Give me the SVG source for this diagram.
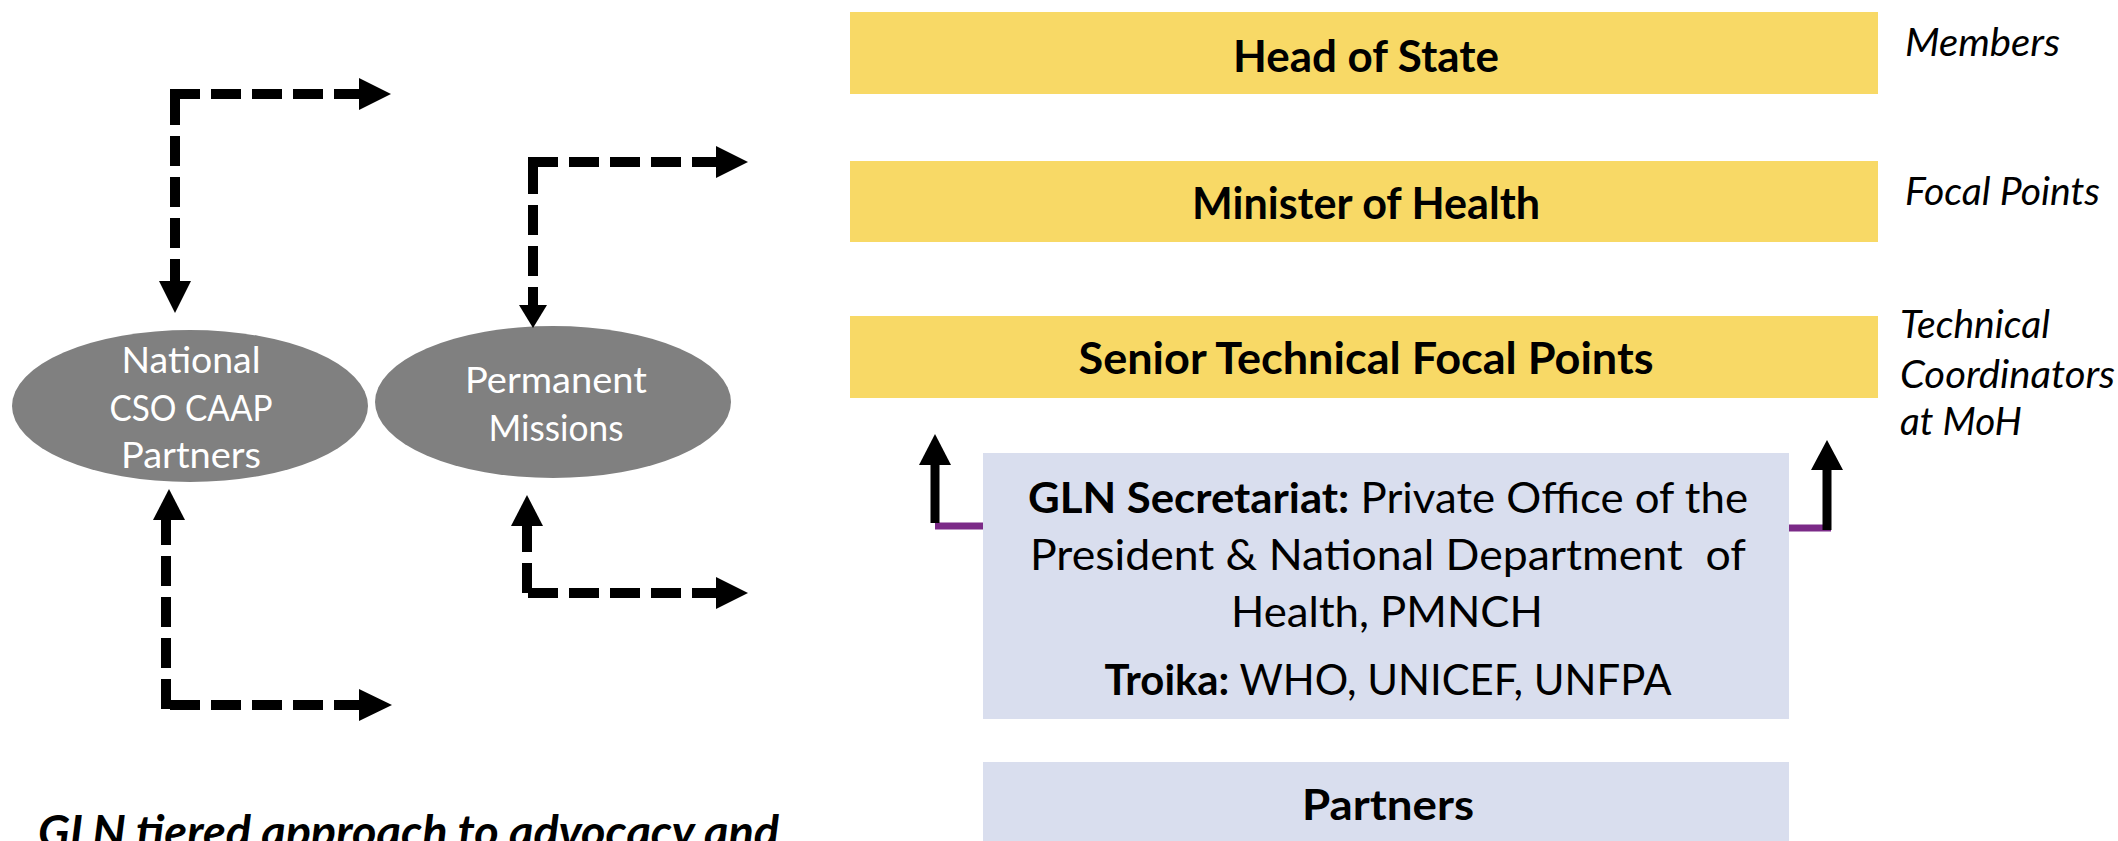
<svg xmlns="http://www.w3.org/2000/svg" width="2118" height="841" viewBox="0 0 2118 841">
  <style>
    .bg { fill: #ffffff; }
    .tier { fill: #F8D966; }
    .sec { fill: #D9DEEE; }
    .oval { fill: #808080; }
    .t { font-family: Lato, "Liberation Sans", sans-serif; fill: #000000; }
    .title { font-size: 43px; font-weight: bold; text-anchor: middle; }
    .body { font-size: 42px; text-anchor: middle; }
    .bold { font-weight: bold; }
    .side { font-size: 38px; font-style: italic; }
    .ovt { font-family: Lato, "Liberation Sans", sans-serif; font-size: 37px; fill: #ffffff; text-anchor: middle; }
    .cap { font-size: 45px; font-weight: bold; font-style: italic; }
    .dash { fill: none; stroke: #000000; stroke-width: 10; stroke-dasharray: 30 11; }
    .head { fill: #000000; }
    .solid { fill: none; stroke: #000000; stroke-width: 9; }
    .purple { fill: none; stroke: #7B2A87; stroke-width: 7; }
  </style>
  <rect class="bg" x="0" y="0" width="2118" height="841"/>

  <g id="node-head-of-state">
    <rect class="tier" x="850" y="12" width="1028" height="82"/>
    <text class="t title" x="1366" y="72" textLength="266" lengthAdjust="spacingAndGlyphs">Head of State</text>
  </g>
  <g id="node-minister-of-health">
    <rect class="tier" x="850" y="161" width="1028" height="81"/>
    <text class="t title" x="1366" y="219" textLength="348" lengthAdjust="spacingAndGlyphs">Minister of Health</text>
  </g>
  <g id="node-senior-technical">
    <rect class="tier" x="850" y="316" width="1028" height="82"/>
    <text class="t title" x="1366" y="374" textLength="575" lengthAdjust="spacingAndGlyphs">Senior Technical Focal Points</text>
  </g>

  <g id="side-labels">
    <text class="t side" x="1905" y="56" textLength="155" lengthAdjust="spacingAndGlyphs">Members</text>
    <text class="t side" x="1905" y="205" textLength="195" lengthAdjust="spacingAndGlyphs">Focal Points</text>
    <text class="t side" x="1900" y="338" textLength="150" lengthAdjust="spacingAndGlyphs">Technical</text>
    <text class="t side" x="1900" y="388" textLength="215" lengthAdjust="spacingAndGlyphs">Coordinators</text>
    <text class="t side" x="1900" y="435" textLength="122" lengthAdjust="spacingAndGlyphs">at MoH</text>
  </g>

  <g id="node-gln-secretariat">
    <rect class="sec" x="983" y="453" width="806" height="266"/>
    <text class="t body" x="1388" y="513" textLength="720" lengthAdjust="spacingAndGlyphs"><tspan class="bold">GLN Secretariat:</tspan> Private Office of the</text>
    <text class="t body" x="1388" y="570" textLength="716" lengthAdjust="spacingAndGlyphs" xml:space="preserve">President &amp; National Department  of</text>
    <text class="t body" x="1387" y="627" textLength="312" lengthAdjust="spacingAndGlyphs">Health, PMNCH</text>
    <text class="t body" x="1388" y="695" textLength="567" lengthAdjust="spacingAndGlyphs"><tspan class="bold">Troika:</tspan> WHO, UNICEF, UNFPA</text>
  </g>
  <g id="node-partners">
    <rect class="sec" x="983" y="762" width="806" height="90"/>
    <text class="t body bold" x="1388" y="820" textLength="172" lengthAdjust="spacingAndGlyphs">Partners</text>
  </g>

  <g id="node-national-cso">
    <ellipse class="oval" cx="190" cy="406" rx="178" ry="76"/>
    <text class="ovt" x="191" y="373" textLength="139" lengthAdjust="spacingAndGlyphs">National</text>
    <text class="ovt" x="191" y="421" textLength="163" lengthAdjust="spacingAndGlyphs">CSO CAAP</text>
    <text class="ovt" x="191" y="468" textLength="140" lengthAdjust="spacingAndGlyphs">Partners</text>
  </g>
  <g id="node-permanent-missions">
    <ellipse class="oval" cx="553" cy="402" rx="178" ry="76"/>
    <text class="ovt" x="556" y="393" textLength="182" lengthAdjust="spacingAndGlyphs">Permanent</text>
    <text class="ovt" x="556" y="441" textLength="135" lengthAdjust="spacingAndGlyphs">Missions</text>
  </g>

  <g id="connectors">
    <!-- top-left -->
    <path class="dash" d="M170 94 H359"/>
    <polygon class="head" points="359,78 391,94 359,110"/>
    <path class="dash" d="M175 95 V281" stroke-dasharray="30 10"/>
    <polygon class="head" points="159,281 191,281 175,313"/>
    <!-- top-right -->
    <path class="dash" d="M528 162 H716"/>
    <polygon class="head" points="716,146 748,162 716,178"/>
    <path class="dash" d="M533 164 V306" stroke-dasharray="30 10"/>
    <polygon class="head" points="519,305 547,305 533,328"/>
    <!-- bottom-left -->
    <path class="dash" d="M166 709 V520"/>
    <polygon class="head" points="153,520 185,520 169,489"/>
    <path class="dash" d="M170 705 H359"/>
    <polygon class="head" points="359,689 392,705 359,721"/>
    <!-- bottom-right -->
    <path class="dash" d="M527 593 V526"/>
    <polygon class="head" points="511,526 543,526 527,495"/>
    <path class="dash" d="M528 593 H716"/>
    <polygon class="head" points="716,577 748,593 716,609"/>
    <!-- secretariat links -->
    <path class="purple" d="M935 526 H983"/>
    <path class="solid" d="M935 523 V464"/>
    <polygon class="head" points="919,465 951,465 935,434"/>
    <path class="purple" d="M1789 528 H1831"/>
    <path class="solid" d="M1827 530 V469"/>
    <polygon class="head" points="1811,470 1843,470 1827,440"/>
  </g>

  <g id="caption">
    <text class="t cap" x="38" y="848" textLength="741" lengthAdjust="spacingAndGlyphs">GLN tiered approach to advocacy and</text>
  </g>
</svg>
